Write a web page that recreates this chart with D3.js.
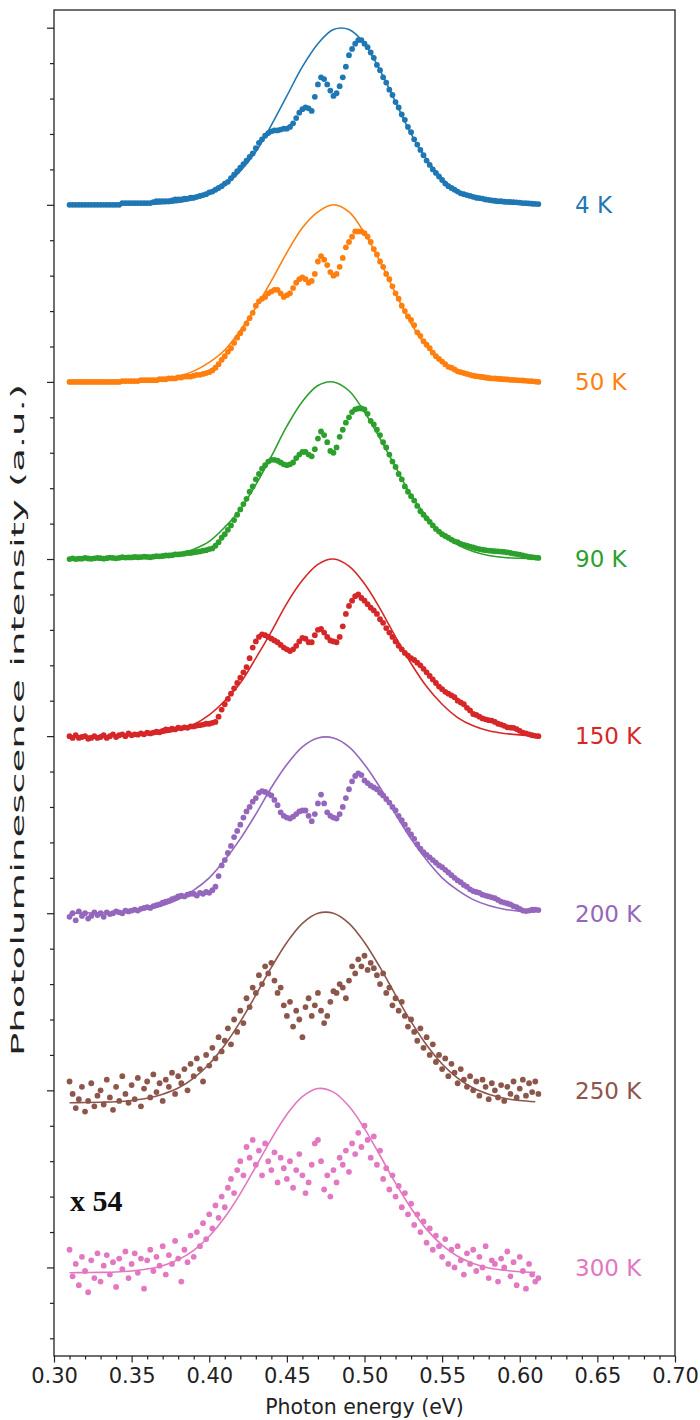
<!DOCTYPE html>
<html><head><meta charset="utf-8">
<script src="https://cdn.jsdelivr.net/npm/d3@7/dist/d3.min.js"></script>
<style>body{margin:0;background:#fff;} svg{display:block;}</style>
</head><body><svg id="chart" width="700" height="1420"></svg>
<script>
// Photon energy grid of the measured spectra (eV)
const energy = [
 .310,.312,.314,.316,.318,.320,.322,.324,.326,.328,
 .330,.332,.334,.336,.338,.340,.342,.344,.346,.348,
 .350,.352,.354,.356,.358,.360,.362,.364,.366,.368,
 .370,.372,.374,.376,.378,.380,.382,.384,.386,.388,
 .390,.392,.394,.396,.398,.400,.402,.404,.406,.408,
 .410,.412,.414,.416,.418,.420,.422,.424,.426,.428,
 .430,.432,.434,.436,.438,.440,.442,.444,.446,.448,
 .450,.452,.454,.456,.458,.460,.462,.464,.466,.468,
 .470,.472,.474,.476,.478,.480,.482,.484,.486,.488,
 .490,.492,.494,.496,.498,.500,.502,.504,.506,.508,
 .510,.512,.514,.516,.518,.520,.522,.524,.526,.528,
 .530,.532,.534,.536,.538,.540,.542,.544,.546,.548,
 .550,.552,.554,.556,.558,.560,.562,.564,.566,.568,
 .570,.572,.574,.576,.578,.580,.582,.584,.586,.588,
 .590,.592,.594,.596,.598,.600,.602,.604,.606,.608,
 .610,.612];
// Energy grid of the fitted curves (eV)
const fitEnergy = [.31,.32,.33,.34,.35,.36,.37,.38,.39,.40,.41,.42,.43,.44,.45,.46,.47,.48,.49,.50,.51,.52,.53,.54,.55,.56,.57,.58,.59,.60,.61];

const temperatures = ["4 K","50 K","90 K","150 K","200 K","250 K","300 K"];
const offsets = [6,5,4,3,2,1,0];
const colors = ["#1f77b4","#ff7f0e","#2ca02c","#d62728","#9467bd","#8c564b","#e377c2"];

// Normalized PL intensity (measured points)
const pl4K = [
 0,0,0,0,0,0,0,0,0,0,
 0,0,0,0,0,0,0,.01,.01,.01,
 .01,.01,.01,.01,.01,.01,.01,.015,.02,.02,
 .02,.02,.02,.025,.03,.03,.03,.035,.035,.04,
 .04,.045,.05,.055,.06,.07,.075,.085,.095,.105,
 .12,.13,.15,.17,.19,.21,.23,.25,.27,.29,
 .32,.35,.37,.39,.405,.415,.42,.42,.425,.43,
 .43,.44,.46,.49,.52,.54,.55,.545,.53,.61,
 .68,.72,.71,.68,.645,.615,.63,.67,.72,.78,
 .845,.88,.91,.93,.93,.91,.89,.86,.83,.79,
 .76,.72,.69,.65,.62,.58,.55,.51,.48,.44,
 .41,.37,.34,.31,.28,.25,.225,.20,.18,.16,
 .14,.12,.105,.095,.085,.075,.065,.06,.055,.05,
 .045,.04,.038,.035,.03,.028,.025,.023,.02,.02,
 .018,.017,.016,.015,.014,.012,.01,.009,.008,.006,
 .005,.004];
const pl50K = [
 0,0,0,0,0,0,0,0,0,0,
 0,0,0,0,0,0,0,.005,.005,.005,
 .005,.005,.005,.01,.01,.01,.01,.01,.01,.015,
 .015,.015,.02,.02,.02,.025,.025,.03,.03,.03,
 .035,.04,.04,.045,.05,.055,.065,.08,.10,.125,
 .145,.17,.19,.22,.25,.275,.30,.33,.36,.39,
 .43,.455,.47,.48,.50,.51,.52,.52,.50,.48,
 .49,.50,.53,.56,.58,.59,.58,.56,.57,.61,
 .68,.71,.69,.66,.62,.60,.61,.65,.70,.76,
 .79,.82,.85,.85,.85,.84,.82,.79,.75,.72,
 .68,.65,.61,.58,.54,.50,.47,.43,.40,.37,
 .35,.32,.28,.26,.23,.21,.19,.165,.145,.13,
 .115,.10,.085,.08,.07,.06,.055,.05,.045,.04,
 .035,.032,.03,.028,.025,.022,.02,.02,.018,.017,
 .015,.014,.012,.011,.01,.009,.008,.006,.005,.004,
 .002,0];
const pl90K = [
 0,.004,0,.002,.002,.006,.003,.001,.004,.006,
 .005,.002,.005,.008,.006,.004,.007,.01,.008,.009,
 .009,.012,.01,.011,.014,.012,.01,.013,.016,.015,
 .017,.02,.02,.022,.026,.026,.028,.03,.034,.034,
 .037,.04,.043,.047,.05,.056,.06,.075,.095,.12,
 .14,.165,.19,.22,.25,.28,.31,.34,.38,.41,
 .45,.48,.51,.53,.55,.56,.56,.555,.545,.535,
 .53,.535,.545,.57,.59,.605,.605,.59,.58,.62,
 .68,.72,.70,.66,.61,.60,.63,.69,.73,.77,
 .80,.83,.845,.85,.85,.845,.82,.78,.76,.73,
 .70,.66,.63,.59,.55,.52,.48,.45,.41,.38,
 .355,.33,.30,.27,.25,.23,.21,.19,.17,.155,
 .14,.13,.12,.11,.10,.095,.085,.08,.075,.07,
 .065,.06,.056,.053,.05,.048,.046,.044,.043,.042,
 .04,.037,.034,.031,.028,.025,.02,.016,.012,.01,
 .008,.006];
const pl150K = [
 .00,-.01,.005,-.01,-.005,.00,-.015,-.01,.00,-.01,
 -.005,.005,-.01,.00,.01,-.005,.005,.01,.00,.015,
 .005,.01,.008,.015,.01,.02,.015,.02,.025,.022,
 .03,.038,.035,.042,.038,.048,.044,.05,.047,.055,
 .055,.06,.062,.065,.07,.07,.075,.08,.11,.15,
 .18,.21,.24,.27,.30,.33,.36,.39,.44,.50,
 .535,.56,.575,.57,.56,.55,.54,.53,.515,.50,
 .49,.48,.49,.51,.535,.555,.55,.53,.53,.57,
 .60,.605,.585,.56,.54,.535,.53,.56,.62,.69,
 .735,.765,.79,.80,.78,.765,.745,.725,.71,.69,
 .66,.64,.61,.585,.56,.535,.51,.49,.47,.455,
 .44,.43,.415,.40,.38,.36,.34,.32,.30,.28,
 .265,.25,.24,.23,.22,.20,.19,.18,.16,.145,
 .125,.12,.11,.10,.095,.09,.088,.08,.07,.065,
 .058,.05,.048,.047,.04,.03,.02,.015,.01,.005,
 .002,0];
const pl200K = [
 -.02,.00,-.04,.01,-.015,.00,-.03,-.015,.005,-.01,
 .00,-.02,.005,-.005,.00,.01,.005,.00,.015,.01,
 .015,.02,.015,.025,.03,.035,.03,.04,.045,.05,
 .06,.065,.07,.08,.085,.095,.10,.095,.105,.11,
 .11,.10,.115,.11,.12,.115,.13,.15,.21,.27,
 .30,.34,.38,.43,.465,.50,.54,.575,.60,.63,
 .65,.68,.69,.685,.675,.665,.64,.61,.57,.55,
 .54,.535,.545,.56,.575,.58,.58,.55,.52,.56,
 .62,.67,.62,.57,.55,.54,.535,.56,.60,.65,
 .70,.745,.775,.79,.78,.75,.735,.72,.71,.70,
 .68,.665,.645,.625,.60,.58,.55,.525,.50,.47,
 .445,.42,.39,.365,.345,.33,.315,.30,.285,.27,
 .26,.245,.23,.215,.20,.185,.175,.16,.15,.135,
 .125,.12,.115,.105,.10,.095,.09,.085,.075,.065,
 .06,.055,.05,.04,.035,.025,.015,.012,.015,.02,
 .02,.018];
const pl250K = [
 .05,-.02,-.10,-.05,.02,-.12,-.06,.04,-.09,-.03,
 .00,-.08,.06,-.04,-.11,.02,-.06,.08,-.02,-.07,
 .03,-.05,.07,-.09,.01,.05,-.04,.09,-.01,.04,
 -.06,.06,.02,.10,-.02,.08,.04,.12,.00,.15,
 .08,.18,.12,.05,.20,.14,.24,.18,.30,.22,
 .28,.35,.26,.40,.33,.45,.38,.52,.47,.58,
 .55,.65,.60,.70,.66,.72,.62,.55,.58,.48,
 .42,.50,.36,.45,.40,.30,.47,.52,.42,.48,
 .55,.45,.38,.42,.50,.56,.55,.60,.58,.52,
 .62,.70,.66,.74,.70,.76,.68,.72,.69,.65,
 .60,.66,.55,.58,.48,.52,.45,.50,.42,.36,
 .40,.33,.28,.35,.24,.30,.20,.26,.16,.20,
 .12,.18,.08,.15,.10,.04,.12,.06,.02,.08,
 .00,.05,-.03,.06,.02,-.05,.04,.00,-.04,.03,
 -.06,.02,-.02,.05,-.04,.01,.06,-.03,.04,-.01,
 .05,-.02];
const pl300K = [
 .10,-.05,.02,-.10,.06,-.02,-.14,.04,-.06,.08,
 -.08,.01,.07,-.04,.03,-.11,.05,-.01,.09,-.06,
 .02,.08,-.03,.05,-.12,.04,.10,-.02,.06,.01,
 .12,-.04,.07,.02,.15,.05,-.08,.10,.03,.18,
 .06,.20,.12,.25,.16,.30,.22,.35,.28,.40,
 .34,.45,.50,.42,.55,.60,.52,.68,.62,.72,
 .58,.66,.52,.70,.60,.55,.65,.48,.62,.56,
 .50,.60,.45,.55,.64,.52,.42,.48,.58,.70,
 .72,.60,.44,.52,.40,.55,.48,.62,.58,.66,
 .54,.70,.64,.76,.68,.80,.72,.62,.74,.58,
 .66,.50,.56,.44,.52,.40,.46,.34,.42,.30,
 .36,.24,.30,.20,.26,.14,.22,.10,.18,.12,
 .06,.16,.02,.10,.00,.12,.04,-.04,.08,.02,
 .10,-.02,.06,.00,.12,-.06,.04,.02,-.08,.05,
 .00,.09,-.05,.03,-.10,.06,-.02,-.12,.02,-.04,
 -.08,-.06];

// Fitted curves (normalized)
const fit4K = [0,0,0,0,.001,.002,.006,.014,.03,.06, .11,.19,.30,.45,.615,.78,.91,.99,.99,.91, .76,.58,.40,.256,.148,.078,.038,.017,.007,.003, .001];
const fit50K = [0,0,0,.001,.003,.007,.016,.032,.061,.11, .18,.29,.42,.57,.73,.87,.96,1.0,.96,.84, .68,.50,.33,.20,.11,.058,.027,.012,.004,.002, .001];
const fit90K = [0,0,0,.001,.002,.005,.013,.027,.055,.10, .18,.28,.42,.58,.75,.89,.98,1.0,.95,.83, .68,.52,.36,.24,.14,.08,.042,.02,.009,.004, .001];
const fit150K = [0,0,.001,.001,.003,.008,.017,.035,.066,.12, .20,.30,.44,.59,.75,.88,.97,1.0,.96,.86, .72,.56,.41,.28,.18,.105,.058,.03,.015,.007, .003];
const fit200K = [0,.001,.003,.006,.012,.023,.044,.077,.13,.20, .30,.42,.56,.71,.84,.94,.99,.99,.94,.84, .71,.56,.42,.30,.20,.13,.077,.044,.023,.012, .006];
const fit250K = [-.07,-.069,-.067,-.064,-.057,-.045,-.022,.013,.069,.149, .256,.388,.538,.694,.835,.943,1.0,1.0,.943,.835, .694,.538,.388,.256,.149,.069,.013,-.022,-.045,-.057, -.064];
const fit300K = [-.03,-.029,-.028,-.026,-.02,-.009,.01,.044,.097,.176, .283,.417,.569,.725,.864,.964,1.01,.99,.91,.784, .632,.476,.334,.215,.126,.063,.022,-.003,-.016,-.024, -.027];

const xMajorTicks = [0.30,0.35,0.40,0.45,0.50,0.55,0.60,0.65,0.70];
const yMajorTicks = [0,1,2,3,4,5,6,7];
const xLabel = "Photon energy (eV)";
const yLabel = "Photoluminescence intensity (a.u.)";
const scaleNote = "x 54";

const measured = [pl4K,pl50K,pl90K,pl150K,pl200K,pl250K,pl300K];
const fits = [fit4K,fit50K,fit90K,fit150K,fit200K,fit250K,fit300K];

// ---------- layout ----------
const svg = d3.select("#chart");
const L = 54, R = 675, T = 10, B = 1356;
const x = d3.scaleLinear().domain([0.30, 0.70]).range([L, R]);
const y = d3.scaleLinear().domain([-0.5, 7.1]).range([B, T]);
const font = "'DejaVu Sans', sans-serif";

// frame
svg.append("rect").attr("x", L).attr("y", T).attr("width", R - L).attr("height", B - T)
  .attr("fill", "none").attr("stroke", "#222").attr("stroke-width", 1.3);

// series
temperatures.forEach((t, i) => {
  const g = svg.append("g");
  const off = offsets[i];
  g.selectAll("circle").data(energy.map((e, k) => [e, measured[i][k]]))
    .join("circle")
    .attr("cx", d => x(d[0])).attr("cy", d => y(d[1] + off))
    .attr("r", 2.9).attr("fill", colors[i]);
  const line = d3.line().x(d => x(d[0])).y(d => y(d[1] + off)).curve(d3.curveCatmullRom.alpha(0.5));
  g.append("path").attr("d", line(fitEnergy.map((e, k) => [e, fits[i][k]])))
    .attr("fill", "none").attr("stroke", colors[i]).attr("stroke-width", 1.6);
  g.append("text").attr("x", 575).attr("y", y(off)).attr("dy", "0.36em")
    .attr("font-family", font).attr("font-size", 23).attr("fill", colors[i]).text(t);
});

// x axis
const xMinor = d3.range(0.30, 0.7001, 0.01).filter(v => Math.abs(v * 20 - Math.round(v * 20)) > 1e-6);
const gx = svg.append("g").attr("transform", `translate(0,${B})`);
gx.call(d3.axisBottom(x).tickValues(xMinor).tickSize(3.5).tickFormat(""));
const gx2 = svg.append("g").attr("transform", `translate(0,${B})`);
gx2.call(d3.axisBottom(x).tickValues(xMajorTicks).tickSize(6.5).tickPadding(6).tickFormat(d3.format(".2f")));
[gx, gx2].forEach(g => { g.select(".domain").remove(); g.selectAll("line").attr("stroke", "#222").attr("stroke-width", 1.2); });
gx2.selectAll("text").attr("font-family", font).attr("font-size", 21).attr("fill", "#222");

// y axis
const yMinor = d3.range(-0.4, 7.05, 0.2).filter(v => Math.abs(v - Math.round(v)) > 1e-6);
const gy = svg.append("g").attr("transform", `translate(${L},0)`);
gy.call(d3.axisLeft(y).tickValues(yMinor).tickSize(4).tickFormat(""));
const gy2 = svg.append("g").attr("transform", `translate(${L},0)`);
gy2.call(d3.axisLeft(y).tickValues(yMajorTicks).tickSize(7).tickFormat(""));
[gy, gy2].forEach(g => { g.select(".domain").remove(); g.selectAll("line").attr("stroke", "#222").attr("stroke-width", 1.2); });

// axis labels
svg.append("text").attr("x", (L + R) / 2).attr("y", 1414).attr("text-anchor", "middle")
  .attr("font-family", font).attr("font-size", 20.5).attr("fill", "#222").text(xLabel);
svg.append("text").attr("transform", `translate(24,720) rotate(-90)`).attr("text-anchor", "middle")
  .attr("font-family", font).attr("font-size", 18)
  .attr("textLength", 672).attr("lengthAdjust", "spacingAndGlyphs")
  .attr("fill", "#222").text(yLabel);

// multiplier note
svg.append("text").attr("x", 70).attr("y", 1211)
  .attr("font-family", "'Liberation Serif', 'Times New Roman', serif").attr("font-weight", "bold")
  .attr("font-size", 30).attr("fill", "#111").text(scaleNote);
</script></body></html>
